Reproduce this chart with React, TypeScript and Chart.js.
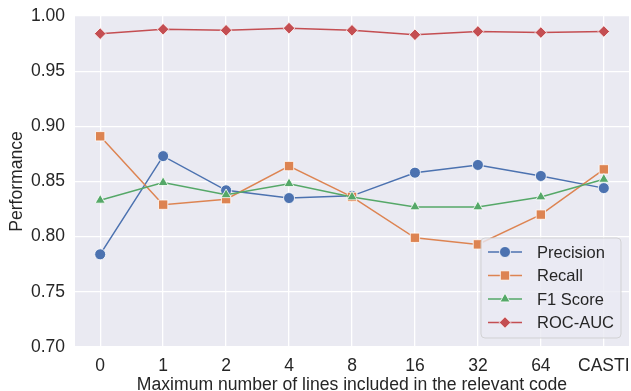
import React, { useEffect, useRef } from 'react';
import { Chart, registerables } from 'chart.js';

Chart.register(...registerables);

const categories = ['0', '1', '2', '4', '8', '16', '32', '64', 'CASTI'];
const precision = [0.784, 0.873, 0.842, 0.835, 0.837, 0.858, 0.865, 0.855, 0.844];
const recall = [0.891, 0.829, 0.834, 0.864, 0.836, 0.799, 0.793, 0.820, 0.861];
const f1Score = [0.833, 0.849, 0.838, 0.848, 0.836, 0.827, 0.827, 0.836, 0.852];
const rocAuc = [0.984, 0.988, 0.987, 0.989, 0.987, 0.983, 0.986, 0.985, 0.986];
const yTicks = [0.7, 0.75, 0.8, 0.85, 0.9, 0.95, 1.0];

const seriesNames = ['Precision', 'Recall', 'F1 Score', 'ROC-AUC'];
const seriesValues = [precision, recall, f1Score, rocAuc];
const seriesColors = ['#4C72B0', '#DD8452', '#55A868', '#C44E52'];
const seriesStyles = ['circle', 'rect', 'triangle', 'rectRot'];
const seriesRadius = [5.5, 6.6, 5.8, 5.8];

const FONT = '"Liberation Sans", Arial, Helvetica, sans-serif';
const TEXT = '#262626';

function drawMarker(ctx: CanvasRenderingContext2D, style: string, x: number, y: number, r: number) {
  ctx.beginPath();
  if (style === 'circle') {
    ctx.arc(x, y, r, 0, Math.PI * 2);
  } else if (style === 'rect') {
    const s = r * Math.SQRT1_2;
    ctx.rect(x - s, y - s, 2 * s, 2 * s);
  } else if (style === 'triangle') {
    ctx.moveTo(x, y - r);
    ctx.lineTo(x + r * Math.sin(Math.PI / 3), y + r / 2);
    ctx.lineTo(x - r * Math.sin(Math.PI / 3), y + r / 2);
    ctx.closePath();
  } else {
    ctx.moveTo(x - r, y);
    ctx.lineTo(x, y - r);
    ctx.lineTo(x + r, y);
    ctx.lineTo(x, y + r);
    ctx.closePath();
  }
  ctx.fill();
  ctx.stroke();
}

const bgPlugin = {
  id: 'areaBg',
  beforeDraw(chart: any) {
    const { ctx, chartArea } = chart;
    ctx.save();
    ctx.fillStyle = '#EAEAF2';
    ctx.fillRect(chartArea.left, chartArea.top, chartArea.right - chartArea.left, chartArea.bottom - chartArea.top);
    ctx.restore();
  },
};

const legendPlugin = {
  id: 'innerLegend',
  afterDraw(chart: any) {
    const { ctx, chartArea } = chart;
    const w = 140;
    const h = 100;
    const right = chartArea.right - 8;
    const bottom = chartArea.bottom - 9;
    const left = right - w;
    const top = bottom - h;
    ctx.save();
    ctx.beginPath();
    const rr = 4;
    ctx.moveTo(left + rr, top);
    ctx.lineTo(right - rr, top);
    ctx.quadraticCurveTo(right, top, right, top + rr);
    ctx.lineTo(right, bottom - rr);
    ctx.quadraticCurveTo(right, bottom, right - rr, bottom);
    ctx.lineTo(left + rr, bottom);
    ctx.quadraticCurveTo(left, bottom, left, bottom - rr);
    ctx.lineTo(left, top + rr);
    ctx.quadraticCurveTo(left, top, left + rr, top);
    ctx.closePath();
    ctx.fillStyle = 'rgba(234,234,242,0.8)';
    ctx.fill();
    ctx.strokeStyle = 'rgba(204,204,204,0.8)';
    ctx.lineWidth = 1;
    ctx.stroke();

    const rowStart = top + 14;
    const rowGap = 23.5;
    ctx.font = `16.5px ${FONT}`;
    ctx.textBaseline = 'middle';
    ctx.textAlign = 'left';
    seriesNames.forEach((name, i) => {
      const y = rowStart + i * rowGap;
      ctx.strokeStyle = seriesColors[i];
      ctx.lineWidth = 1.5;
      ctx.beginPath();
      ctx.moveTo(left + 7, y);
      ctx.lineTo(left + 41, y);
      ctx.stroke();
      ctx.fillStyle = seriesColors[i];
      ctx.strokeStyle = '#ffffff';
      ctx.lineWidth = 0.8;
      drawMarker(ctx, seriesStyles[i], left + 24, y, seriesRadius[i]);
      ctx.fillStyle = TEXT;
      ctx.fillText(name, left + 56, y + 1);
    });
    ctx.restore();
  },
};

export default function App() {
  const ref = useRef<HTMLCanvasElement | null>(null);

  useEffect(() => {
    if (!ref.current) return;
    const datasets = seriesNames.map((name, i) => ({
      label: name,
      data: seriesValues[i].map((v, j) => ({ x: j, y: v })),
      borderColor: seriesColors[i],
      backgroundColor: seriesColors[i],
      pointBackgroundColor: seriesColors[i],
      pointBorderColor: '#ffffff',
      pointBorderWidth: 0.8,
      pointStyle: seriesStyles[i],
      pointRadius: seriesRadius[i],
      borderWidth: 1.5,
      order: seriesNames.length - i,
      clip: false as any,
    }));
    const chart = new Chart(ref.current, {
      type: 'line',
      data: { datasets },
      options: {
        responsive: false,
        animation: false,
        layout: { autoPadding: false, padding: { top: 16, right: 2, left: 0, bottom: 0 } },
        plugins: {
          legend: { display: false },
          tooltip: { enabled: false },
        },
        scales: {
          x: {
            type: 'linear',
            min: -0.4,
            max: 8.4,
            afterBuildTicks: (scale: any) => {
              scale.ticks = categories.map((_, i) => ({ value: i }));
            },
            afterFit: (scale: any) => {
              scale.height = 44;
              scale.paddingLeft = 0;
              scale.paddingRight = 0;
            },
            ticks: {
              callback: (v: any) => categories[Math.round(Number(v))] ?? '',
              font: { family: FONT, size: 17.5 },
              color: TEXT,
              padding: 9,
              maxRotation: 0,
              autoSkip: false,
            },
            grid: { color: '#ffffff', lineWidth: 1.3, drawTicks: false },
            border: { display: false },
            title: {
              display: true,
              text: 'Maximum number of lines included in the relevant code',
              font: { family: FONT, size: 17.6 },
              color: TEXT,
              padding: { top: 0, bottom: -5 },
            },
          },
          y: {
            type: 'linear',
            min: 0.7,
            max: 1.0,
            afterBuildTicks: (scale: any) => {
              scale.ticks = yTicks.map((v) => ({ value: v }));
            },
            afterFit: (scale: any) => {
              scale.width = 75;
              scale.paddingTop = 0;
              scale.paddingBottom = 0;
            },
            ticks: {
              callback: (v: any) => Number(v).toFixed(2),
              font: { family: FONT, size: 17.5 },
              color: TEXT,
              padding: 10,
            },
            grid: { color: '#ffffff', lineWidth: 1.3, drawTicks: false },
            border: { display: false },
            title: {
              display: true,
              text: 'Performance',
              font: { family: FONT, size: 17.6 },
              color: TEXT,
              padding: { top: 6.5, bottom: 0 },
            },
          },
        },
      },
      plugins: [bgPlugin, legendPlugin],
    });
    return () => chart.destroy();
  }, []);

  return (
    <div style={{ position: 'fixed', left: 0, top: 0, width: 631, height: 391, background: '#ffffff' }}>
      <canvas ref={ref} width={631} height={391} style={{ display: 'block', width: 631, height: 391 }} />
    </div>
  );
}
